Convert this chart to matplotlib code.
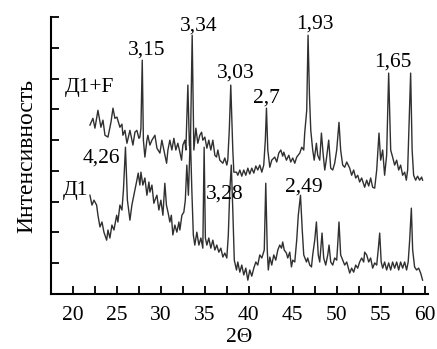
import numpy as np
import matplotlib
matplotlib.use("Agg")
import matplotlib.pyplot as plt
from matplotlib.ticker import MultipleLocator

# Д1+F sample (upper trace)
tt_d1f = [21.93, 22.27, 22.50, 22.84, 23.18, 23.41, 23.64, 23.98, 24.32, 24.55,
          24.77, 25.00, 25.34, 25.57, 25.68, 25.91, 26.14, 26.48, 26.70, 26.82,
          27.05, 27.27, 27.50, 27.61, 27.73, 27.88, 28.01, 28.18, 28.41, 28.52,
          28.75, 28.98, 29.32, 29.55, 29.89, 30.11, 30.34, 30.65, 30.80, 31.02,
          31.25, 31.48, 31.70, 31.93, 32.16, 32.35, 32.50, 32.73, 32.84, 33.07,
          33.24, 33.35, 33.56, 33.75, 33.98, 34.20, 34.43, 34.63, 34.77, 35.00,
          35.23, 35.45, 35.68, 35.91, 36.14, 36.33, 36.48, 36.70, 37.05, 37.27,
          37.50, 37.61, 37.78, 37.95, 38.18, 38.30, 38.60, 38.75, 38.98, 39.20,
          39.43, 39.66, 39.89, 40.11, 40.34, 40.57, 40.80, 41.02, 41.25, 41.48,
          41.70, 41.88, 42.01, 42.16, 42.39, 42.61, 42.95, 43.18, 43.41, 43.64,
          43.86, 43.98, 44.28, 44.55, 44.77, 45.00, 45.23, 45.45, 45.80, 46.02,
          46.25, 46.36, 46.59, 46.74, 46.90, 47.05, 47.27, 47.44, 47.69, 47.84,
          48.07, 48.26, 48.47, 48.64, 48.81, 49.09, 49.32, 49.55, 49.77, 50.00,
          50.26, 50.45, 50.68, 50.91, 51.14, 51.48, 51.70, 51.93, 52.16, 52.39,
          52.61, 52.84, 53.18, 53.41, 53.64, 53.86, 54.09, 54.32, 54.55, 54.81,
          55.00, 55.23, 55.45, 55.68, 55.91, 56.14, 56.36, 56.59, 56.82, 57.05,
          57.27, 57.50, 57.73, 57.92, 58.07, 58.24, 58.41, 58.58, 58.75, 58.98,
          59.20, 59.43, 59.66, 59.77]
int_d1f = [5.49, 5.71, 5.39, 5.97, 5.42, 5.65, 5.16, 5.10, 5.58, 6.04,
           5.71, 5.75, 5.42, 5.52, 5.16, 5.32, 4.90, 5.32, 5.00, 4.84,
           5.26, 5.32, 5.06, 5.10, 5.39, 7.60, 5.00, 4.45, 5.00, 5.16,
           4.84, 5.00, 5.16, 4.74, 4.58, 5.00, 4.68, 4.25, 4.68, 5.00,
           4.68, 5.06, 4.68, 4.90, 4.61, 4.35, 4.84, 5.00, 4.68, 6.79,
           4.84, 4.68, 8.41, 4.68, 5.39, 4.90, 5.16, 5.26, 5.00, 5.10,
           4.74, 5.00, 4.68, 5.00, 4.51, 4.45, 4.68, 4.35, 4.25, 4.42,
           4.19, 4.35, 5.32, 6.79, 4.68, 3.96, 3.96, 3.86, 4.03, 3.83,
           4.03, 3.86, 4.09, 3.90, 4.09, 3.93, 4.16, 4.03, 4.19, 3.96,
           4.19, 5.00, 6.04, 4.68, 4.12, 4.35, 4.45, 4.29, 4.58, 4.68,
           4.48, 4.61, 4.35, 4.51, 4.29, 4.42, 4.25, 4.45, 4.58, 4.77,
           4.68, 5.23, 5.97, 8.41, 6.46, 5.32, 4.68, 4.35, 4.90, 4.51,
           4.35, 5.23, 4.51, 4.03, 4.35, 5.00, 4.09, 4.03, 4.25, 4.68,
           5.58, 4.68, 4.19, 4.12, 4.29, 4.09, 3.86, 4.03, 3.77, 3.86,
           3.64, 3.77, 3.47, 3.70, 3.51, 3.77, 3.47, 3.44, 4.03, 5.23,
           4.35, 4.68, 3.86, 4.51, 7.18, 4.68, 4.45, 4.19, 4.35, 4.03,
           4.19, 3.86, 3.96, 3.70, 4.03, 5.65, 7.18, 4.68, 3.86, 3.70,
           3.83, 3.70, 3.80, 3.70]

# Д1 sample (lower trace)
tt_d1 = [21.93, 22.16, 22.39, 22.69, 22.84, 23.07, 23.30, 23.52, 23.83, 23.98,
         24.20, 24.43, 24.66, 24.97, 25.11, 25.34, 25.57, 25.74, 25.97, 26.19,
         26.48, 26.70, 27.05, 27.27, 27.42, 27.61, 27.73, 27.95, 28.18, 28.41,
         28.64, 28.75, 28.98, 29.20, 29.32, 29.55, 29.77, 30.00, 30.23, 30.45,
         30.63, 30.83, 31.02, 31.19, 31.36, 31.59, 31.82, 32.05, 32.16, 32.39,
         32.61, 32.78, 32.95, 33.13, 33.35, 33.52, 33.69, 33.86, 34.09, 34.32,
         34.55, 34.77, 34.92, 35.06, 35.23, 35.45, 35.68, 35.91, 36.14, 36.36,
         36.59, 36.82, 37.05, 37.27, 37.50, 37.67, 37.84, 38.01, 38.18, 38.35,
         38.60, 38.75, 38.98, 39.20, 39.43, 39.66, 39.89, 40.11, 40.34, 40.57,
         40.80, 41.02, 41.25, 41.48, 41.76, 41.93, 42.10, 42.22, 42.39, 42.61,
         42.84, 43.07, 43.30, 43.52, 43.72, 43.86, 44.03, 44.28, 44.43, 44.66,
         44.85, 45.00, 45.23, 45.45, 45.63, 45.88, 46.08, 46.25, 46.56, 46.70,
         46.93, 47.13, 47.27, 47.50, 47.69, 47.90, 48.07, 48.33, 48.52, 48.75,
         48.98, 49.13, 49.32, 49.55, 49.77, 50.00, 50.11, 50.26, 50.45, 50.68,
         50.91, 51.14, 51.48, 51.70, 51.93, 52.16, 52.39, 52.61, 52.84, 53.07,
         53.18, 53.41, 53.64, 53.86, 54.09, 54.32, 54.55, 54.72, 54.89, 55.06,
         55.23, 55.45, 55.68, 55.91, 56.14, 56.36, 56.59, 56.82, 57.05, 57.27,
         57.50, 57.73, 57.95, 58.13, 58.30, 58.49, 58.64, 58.86, 59.09, 59.32,
         59.55, 59.77]
int_d1 = [3.21, 2.89, 3.05, 2.89, 2.56, 2.18, 2.34, 2.01, 1.75, 2.08,
          1.82, 2.24, 2.08, 2.56, 2.34, 2.89, 2.73, 3.38, 4.77, 3.05,
          2.40, 2.89, 3.38, 3.70, 3.93, 3.54, 3.96, 3.54, 3.77, 3.21,
          3.64, 3.31, 3.54, 2.95, 3.05, 3.21, 2.73, 3.05, 2.56, 3.60,
          2.89, 2.63, 2.34, 2.56, 1.92, 2.24, 2.01, 2.34, 2.08, 2.56,
          2.66, 3.05, 4.19, 3.21, 5.16, 3.38, 1.92, 1.59, 2.01, 1.59,
          1.82, 1.49, 4.77, 1.82, 1.59, 1.82, 1.49, 1.75, 1.43, 1.59,
          1.36, 1.49, 1.20, 1.33, 1.17, 1.92, 3.38, 4.19, 2.73, 1.10,
          0.78, 1.04, 0.71, 0.94, 0.62, 0.84, 0.45, 0.78, 0.58, 0.84,
          1.04, 0.94, 1.27, 1.17, 1.43, 3.60, 1.43, 0.78, 1.20, 0.94,
          1.27, 1.10, 1.43, 1.59, 1.49, 1.69, 1.43, 1.33, 1.17, 1.36,
          0.88, 1.10, 1.04, 1.75, 2.56, 3.21, 2.08, 1.27, 1.04, 1.17,
          0.94, 0.88, 1.27, 1.75, 2.34, 1.27, 1.04, 1.98, 1.17, 0.94,
          1.27, 1.59, 1.04, 0.94, 1.17, 1.10, 1.59, 2.34, 1.27, 1.10,
          0.94, 1.04, 0.68, 0.84, 0.71, 0.94, 0.84, 1.04, 1.17, 1.04,
          1.36, 1.27, 1.04, 1.17, 0.84, 1.01, 0.94, 1.43, 1.98, 1.04,
          0.84, 1.04, 0.78, 1.01, 0.78, 1.04, 0.84, 1.04, 0.78, 1.04,
          0.84, 1.04, 0.78, 1.04, 1.75, 2.79, 1.43, 0.88, 0.78, 0.84,
          0.68, 0.45]

# d-spacing labels and sample names
peak_labels = ["3,15", "3,34", "3,03", "2,7", "1,93", "1,65", "4,26", "3,28", "2,49"]
sample_names = ["Д1+F", "Д1"]

plt.rcParams["font.family"] = ["Liberation Serif", "DejaVu Serif"]
FS = 15.5

fig = plt.figure(figsize=(4.37, 3.49), dpi=100)
ax = fig.add_axes([0.1167, 0.1576, 0.862, 0.7934])

ax.plot(tt_d1f, int_d1f, color="#303030", lw=1.0)
ax.plot(tt_d1, int_d1, color="#303030", lw=1.0)

label_pos = [(28.37, 7.94), (34.26, 8.70), (38.47, 7.19), (42.0, 6.38),
             (47.5, 8.78), (56.42, 7.55), (23.24, 4.42), (37.27, 3.25),
             (46.3, 3.49)]
for txt, (x, y) in zip(peak_labels, label_pos):
    ax.text(x, y, txt, ha="center", va="center", fontsize=FS)

ax.text(19.05, 6.7, sample_names[0], ha="left", va="center", fontsize=FS)
ax.text(18.8, 3.38, sample_names[1], ha="left", va="center", fontsize=FS)

ax.set_xlim(17.5, 60.35)
ax.set_ylim(0, 9)
ax.xaxis.set_major_locator(MultipleLocator(5))
ax.xaxis.set_minor_locator(MultipleLocator(2.5))
ax.yaxis.set_major_locator(MultipleLocator(1))
ax.set_yticklabels([])
ax.tick_params(which="both", direction="in", length=6, width=1.3,
               labelsize=FS, pad=9)
ax.tick_params(axis="y", length=6, pad=0)

for side in ("top", "right"):
    ax.spines[side].set_visible(False)
for side in ("left", "bottom"):
    ax.spines[side].set_linewidth(1.5)

ax.set_xlabel("2Θ", fontsize=FS, labelpad=2)
ax.set_ylabel("Интенсивность", fontsize=17, labelpad=10)

fig.savefig("out.png", dpi=100)
